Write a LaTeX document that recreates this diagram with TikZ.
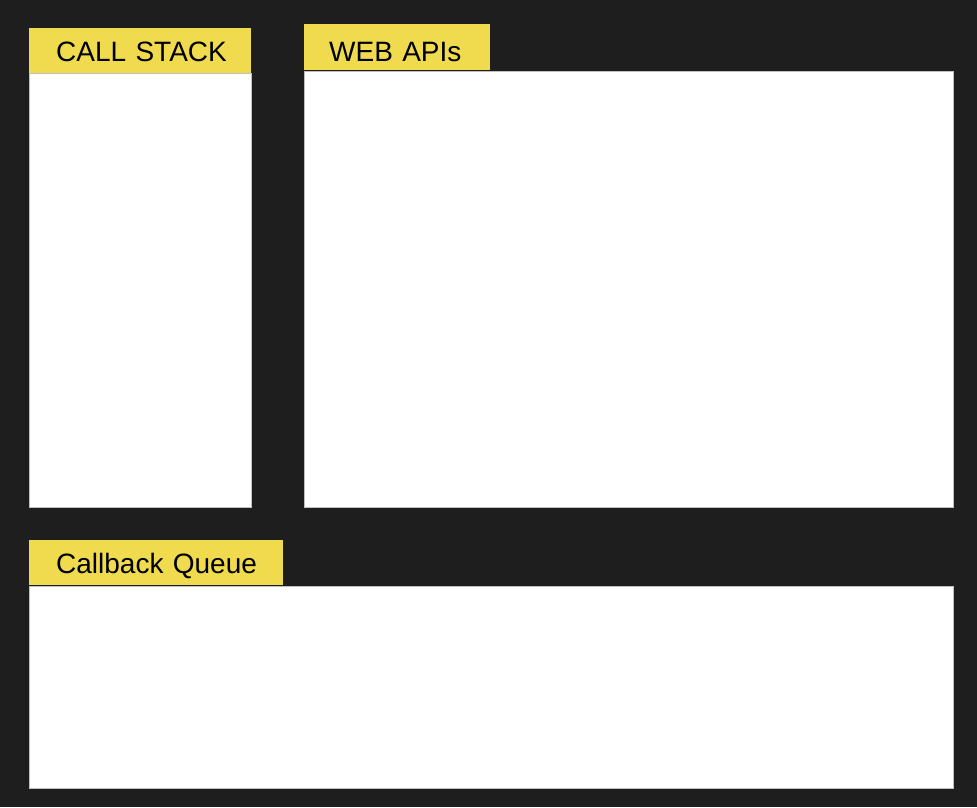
\documentclass[tikz,border=0pt]{standalone}
\usepackage{fontspec}
\setmainfont{Liberation Sans}
\definecolor{fond}{HTML}{1E1E1E}
\definecolor{jaune}{HTML}{F0DA4E}
\begin{document}
\begin{tikzpicture}[x=1pt,y=-1pt]
% Styles
\tikzset{onglet/.style={fill=jaune,anchor=north west,minimum height=45pt,inner sep=0pt,
    align=left,text height=21pt,text depth=0pt,font=\fontsize{28pt}{30pt}\selectfont}}
\tikzset{panneau/.style={fill=white,draw=gray!50,line width=0.4pt,anchor=north west,inner sep=0pt}}
% Fond
\fill[fond] (0,0) rectangle (977,807);
\useasboundingbox (0,0) rectangle (977,807);
% Pile d'appels
\node[panneau,minimum width=222pt,minimum height=434pt] (pile) at (29,73) {};
\node[onglet,text width=222pt] (titrepile) at (29,28) {\hspace*{27pt}CALL STACK};
% APIs web
\node[panneau,minimum width=649pt,minimum height=436pt] (apis) at (304,71) {};
\node[onglet,text width=186pt,minimum height=46pt,text height=28pt] (titreapis) at (304,24) {\hspace*{25pt}WEB APIs};
% File des rappels
\node[panneau,minimum width=924pt,minimum height=202pt] (file) at (29,586) {};
\node[onglet,text width=254pt] (titrefile) at (29,540) {\hspace*{27pt}Callback Queue};
\end{tikzpicture}
\end{document}
